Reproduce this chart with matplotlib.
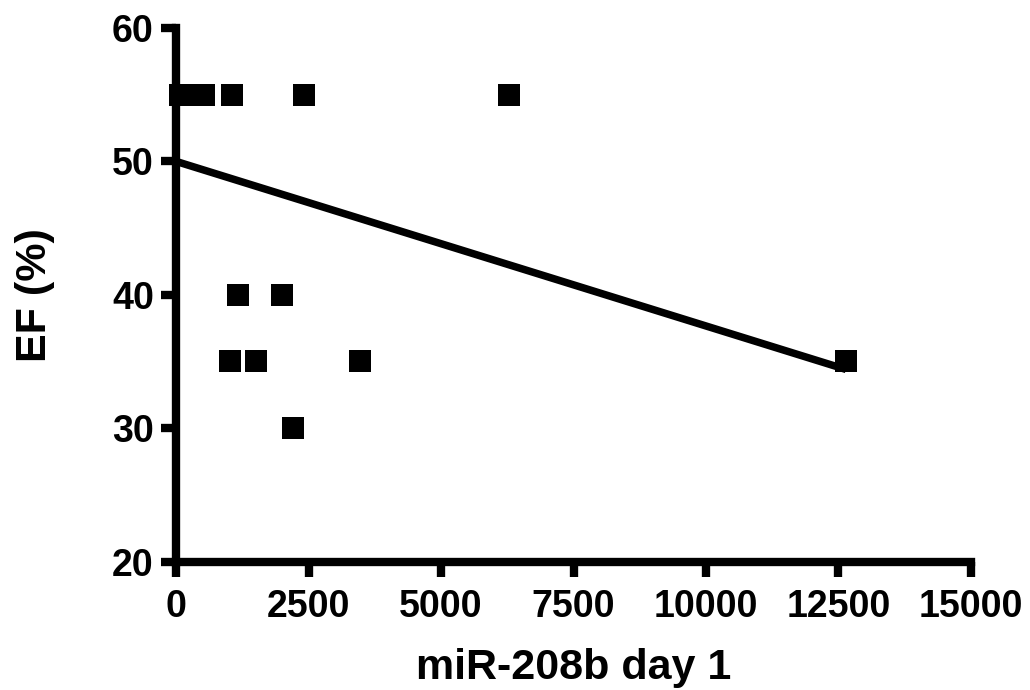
import numpy as np
import matplotlib.pyplot as plt

plt.rcParams['font.family'] = ['Liberation Sans', 'DejaVu Sans']
plt.rcParams['font.weight'] = 'bold'

# miR-208b day 1 level vs ejection fraction
mir208b = [75, 300, 528, 1047, 2415, 6283, 1170, 2000, 1020, 1500, 3472, 2208, 12642]
ef_pct = [55, 55, 55, 55, 55, 55, 40, 40, 35, 35, 35, 30, 35]

# regression line as drawn
fit_intercept = 50.0
fit_slope = -0.001234

x_ticks = [0, 2500, 5000, 7500, 10000, 12500, 15000]
y_ticks = [20, 30, 40, 50, 60]

fig = plt.figure(figsize=(10.3, 6.9), dpi=100)
ax = fig.add_axes([0.1709, 0.1862, 0.7718, 0.7732])

ax.plot(mir208b, ef_pct, 's', color='black', markersize=15.5,
        markeredgewidth=0, clip_on=False, zorder=3)

fx = np.array([0, max(mir208b)])
ax.plot(fx, fit_intercept + fit_slope * fx, color='black', lw=5.4,
        solid_capstyle='butt', zorder=2)

ax.set_xlim(0, 15000)
ax.set_ylim(20, 60)
ax.set_xticks(x_ticks)
ax.set_yticks(y_ticks)

for side in ['top', 'right']:
    ax.spines[side].set_visible(False)
for side in ['left', 'bottom']:
    ax.spines[side].set_linewidth(6)

ax.tick_params(axis='both', direction='out', length=11, width=6,
               labelsize=27, color='black')
ax.tick_params(axis='x', pad=9)
ax.tick_params(axis='y', pad=5)
for lab in ax.get_xticklabels() + ax.get_yticklabels():
    lab.set_fontweight('bold')

ax.set_xlabel('miR-208b day 1', fontsize=31, fontweight='bold')
ax.set_ylabel('EF (%)', fontsize=31, fontweight='bold')
ax.xaxis.set_label_coords(0.5, -0.162)
ax.yaxis.set_label_coords(-0.152, 0.5)

fig.savefig('out.png', dpi=100)
